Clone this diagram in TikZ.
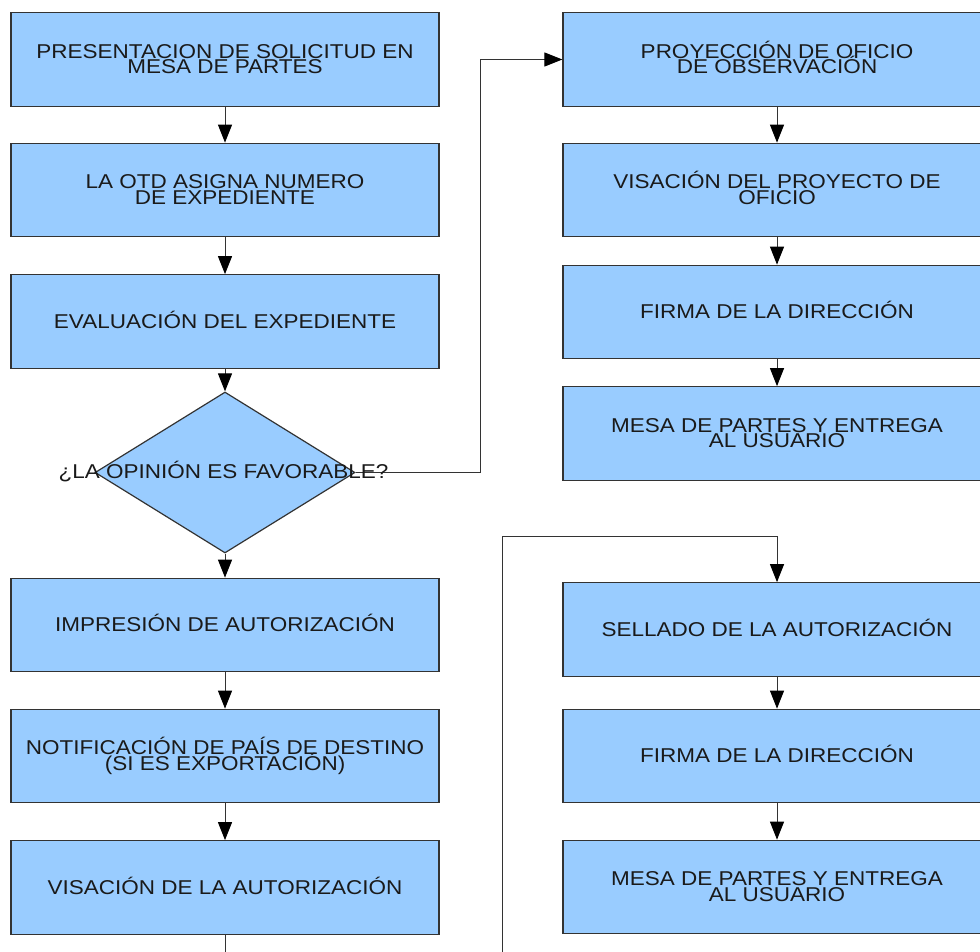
\documentclass[tikz,border=0pt]{standalone}
\usepackage{fontspec}
\setmainfont[FakeStretch=1.125]{Liberation Sans}
\usetikzlibrary{arrows.meta,shapes.geometric}
\definecolor{boxfill}{HTML}{99CCFF}
\definecolor{boxline}{HTML}{333333}
\definecolor{txtcol}{HTML}{1A1A1A}
\newcommand\mytightlines{\lineskiplimit=-30pt\relax\lineskip=0pt\relax}
\newcommand\twol[2]{\rule{0pt}{19pt}#1\\#2\rule[-6pt]{0pt}{6pt}}
\begin{document}
\begin{tikzpicture}[x=1pt,y=-1pt,
  procbox/.style={draw=boxline,line width=1.2pt,fill=boxfill,minimum width=428pt,minimum height=93.5pt,inner sep=0pt,text=txtcol,font={\fontsize{20}{15.5}\selectfont\mytightlines},align=center},
  oneline/.style={text height=18pt,text depth=5pt},
  decbox/.style={diamond,draw=boxline,line width=1.2pt,fill=boxfill,minimum width=260pt,minimum height=161pt,inner sep=0pt},
  dectext/.style={text=txtcol,font=\fontsize{20}{15}\selectfont,inner sep=0pt,text height=18pt,text depth=5pt},
  flow/.style={draw=boxline,line width=1pt,-{Triangle[length=18pt,width=14pt,color=black]}},
  plain/.style={draw=boxline,line width=1pt}]
\useasboundingbox (0,0) rectangle (980,952);
\clip (0,0) rectangle (980,952);
% left column
\node[procbox] (L1) at (225,59.5) {\twol{PRESENTACION DE SOLICITUD EN}{MESA DE PARTES}};
\node[procbox] (L2) at (225,190) {\twol{LA OTD ASIGNA NUMERO}{DE EXPEDIENTE}};
\node[procbox,oneline] (L3) at (225,321.5) {EVALUACIÓN DEL EXPEDIENTE};
\node[decbox] (D) at (225,472.5) {};
\node[procbox,oneline] (L4) at (225,625) {IMPRESIÓN DE AUTORIZACIÓN};
\node[procbox] (L5) at (225,756) {\twol{NOTIFICACIÓN DE PAÍS DE DESTINO}{(SI ES EXPORTACIÓN)}};
\node[procbox,oneline] (L6) at (225,887.5) {VISACIÓN DE LA AUTORIZACIÓN};
% right column
\node[procbox] (R1) at (777,59.5) {\twol{PROYECCIÓN DE OFICIO}{DE OBSERVACIÓN}};
\node[procbox] (R2) at (777,190) {\twol{VISACIÓN DEL PROYECTO DE}{OFICIO}};
\node[procbox,oneline] (R3) at (777,312) {FIRMA DE LA DIRECCIÓN};
\node[procbox] (R4) at (777,433.5) {\twol{MESA DE PARTES Y ENTREGA}{AL USUARIO}};
\node[procbox,oneline] (R5) at (777,629.5) {SELLADO DE LA AUTORIZACIÓN};
\node[procbox,oneline] (R6) at (777,756) {FIRMA DE LA DIRECCIÓN};
\node[procbox] (R7) at (777,887) {\twol{MESA DE PARTES Y ENTREGA}{AL USUARIO}};
% helper coordinates
\coordinate (k1) at (480,472.5);
\coordinate (b1) at (225,962);
\coordinate (b2) at (502,962);
\coordinate (k2) at (502,536);
% connectors
\draw[flow] (L1) -- (L2);
\draw[flow] (L2) -- (L3);
\draw[flow] (L3.south) -- (D.north);
\draw[flow] (D.south) -- (L4.north);
\draw[flow] (L4) -- (L5);
\draw[flow] (L5) -- (L6);
\draw[plain] (L6.south) -- (b1);
\draw[flow] (D.east) -- (k1) |- (R1.west);
\draw[flow] (R1) -- (R2);
\draw[flow] (R2) -- (R3);
\draw[flow] (R3) -- (R4);
\draw[flow] (b2) -- (k2) -| (R5.north);
\draw[flow] (R5) -- (R6);
\draw[flow] (R6) -- (R7);
% decision text drawn on top
\node[dectext] (DT) at (223.5,471.5) {¿LA OPINIÓN ES FAVORABLE?};
\end{tikzpicture}
\end{document}
